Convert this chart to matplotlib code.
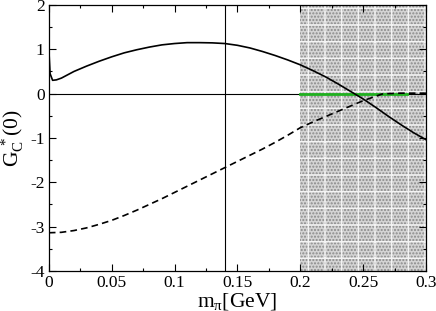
import matplotlib
matplotlib.use("Agg")
import matplotlib.pyplot as plt
from matplotlib.ticker import MultipleLocator, FuncFormatter

plt.rcParams['font.family'] = ['Liberation Serif', 'DejaVu Serif']
plt.rcParams['mathtext.fontset'] = 'custom'
plt.rcParams['mathtext.rm'] = 'Liberation Serif'
plt.rcParams['mathtext.it'] = 'Liberation Serif:italic'
plt.rcParams['axes.unicode_minus'] = False

# solid curve
m_solid = [0.0, 0.001, 0.003, 0.006, 0.01, 0.02, 0.03, 0.04, 0.05, 0.06,
           0.07, 0.08, 0.09, 0.10, 0.11, 0.12, 0.13, 0.14, 0.15, 0.16,
           0.17, 0.18, 0.19, 0.20, 0.21, 0.22, 0.23, 0.24, 0.25, 0.26,
           0.27, 0.28, 0.29, 0.30]
g_solid = [1.0, 0.45, 0.30, 0.31, 0.35, 0.50, 0.62, 0.73, 0.83, 0.92,
           0.99, 1.05, 1.10, 1.13, 1.15, 1.15, 1.145, 1.13, 1.09, 1.03,
           0.95, 0.86, 0.76, 0.65, 0.52, 0.38, 0.22, 0.05, -0.12, -0.31,
           -0.51, -0.70, -0.88, -1.04]

# dashed curve
m_dash = [0.0, 0.01, 0.02, 0.03, 0.04, 0.05, 0.06, 0.07, 0.08, 0.09,
          0.10, 0.11, 0.12, 0.13, 0.14, 0.15, 0.16, 0.17, 0.18, 0.19,
          0.20, 0.21, 0.22, 0.23, 0.24, 0.25, 0.26, 0.265, 0.27, 0.28,
          0.29, 0.30]
g_dash = [-3.14, -3.13, -3.09, -3.03, -2.95, -2.86, -2.75, -2.63, -2.50, -2.37,
          -2.23, -2.09, -1.95, -1.81, -1.67, -1.53, -1.39, -1.25, -1.10, -0.94,
          -0.77, -0.64, -0.52, -0.40, -0.28, -0.16, -0.06, -0.01, 0.0, 0.01,
          0.01, 0.01]

# green segment on zero
m_green = [0.20, 0.285]
g_green = [0.0, 0.0]

m_phys = 0.14
band = (0.20, 0.30)

fig = plt.figure(figsize=(4.36, 3.11), dpi=100)
ax = fig.add_axes([0.112, 0.129, 0.865, 0.855])

ax.axvspan(band[0], band[1], facecolor='#d4d4d4', edgecolor='#8a8a8a',
           hatch='.....', linewidth=0, zorder=0)
ax.axvspan(band[0], band[1], facecolor='none', edgecolor='#f4f4f4',
           hatch='+', linewidth=0, zorder=0.5)

ax.axhline(0, color='black', lw=0.8, zorder=1)
ax.axvline(m_phys, color='black', lw=0.8, zorder=1)
ax.plot(m_green, g_green, color='#1fb01f', lw=2, zorder=2)
ax.plot(m_solid, g_solid, color='black', lw=1.2, zorder=3)
ax.plot(m_dash, g_dash, color='black', lw=1.2, ls=(0, (4, 2.5)), zorder=3)

ax.set_xlim(0, 0.3)
ax.set_ylim(-4, 2)
ax.xaxis.set_major_locator(MultipleLocator(0.05))
ax.xaxis.set_minor_locator(MultipleLocator(0.025))
ax.yaxis.set_major_locator(MultipleLocator(1))
ax.yaxis.set_minor_locator(MultipleLocator(0.5))
ax.xaxis.set_major_formatter(FuncFormatter(lambda v, p: '%g' % round(v, 3)))
ax.yaxis.set_major_formatter(FuncFormatter(lambda v, p: '%g' % round(v, 3)))
ax.tick_params(which='both', direction='in', top=True, right=True,
               labelsize=12.5, width=0.8, pad=3)
ax.tick_params(which='major', length=5)
ax.tick_params(which='minor', length=2.5)
for s in ax.spines.values():
    s.set_linewidth(0.9)

ax.set_xlabel(r'$\mathrm{m_{\pi}[GeV]}$', fontsize=15.5, labelpad=0)
ax.set_ylabel(r'$\mathrm{G_C^{\ *}(0)}$', fontsize=15.5, labelpad=3)

fig.savefig('out.png', dpi=100)
